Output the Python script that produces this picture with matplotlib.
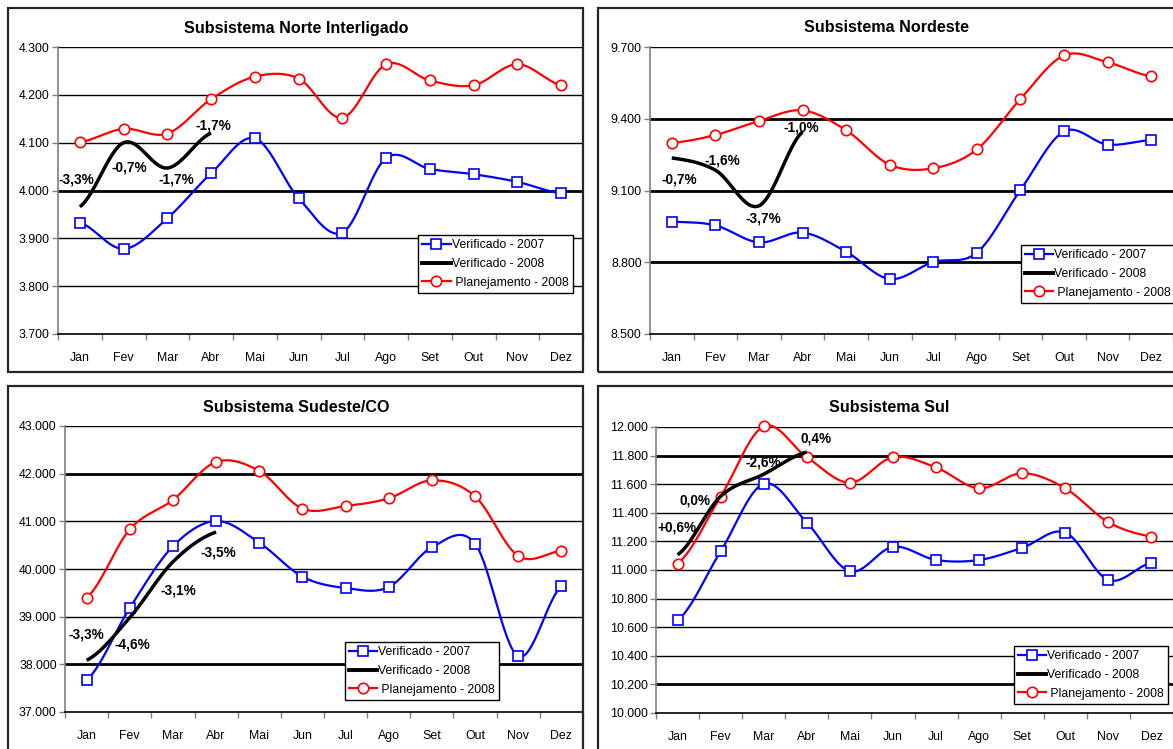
import matplotlib
matplotlib.use('Agg')
import matplotlib.pyplot as plt
import numpy as np
from matplotlib.patches import Rectangle

plt.rcParams['font.family'] = ['Liberation Sans', 'DejaVu Sans']

months = ['Jan', 'Fev', 'Mar', 'Abr', 'Mai', 'Jun', 'Jul', 'Ago', 'Set', 'Out', 'Nov', 'Dez']
legend_labels = ['Verificado - 2007', 'Verificado - 2008', ' Planejamento - 2008']

# Subsistema Norte Interligado
norte_2007 = [3933, 3878, 3942, 4036, 4109, 3984, 3912, 4068, 4045, 4034, 4018, 3994]
norte_2008 = [3966, 4100, 4047, 4120]
norte_plan = [4101, 4129, 4119, 4191, 4238, 4234, 4152, 4264, 4230, 4220, 4264, 4220]
norte_pct = ['-3,3%', '-0,7%', '-1,7%', '-1,7%']

# Subsistema Nordeste
nordeste_2007 = [8970, 8954, 8883, 8924, 8844, 8730, 8801, 8840, 9102, 9347, 9292, 9311]
nordeste_2008 = [9236, 9185, 9036, 9345]
nordeste_plan = [9299, 9332, 9391, 9435, 9352, 9208, 9193, 9272, 9483, 9665, 9636, 9577]
nordeste_pct = ['-0,7%', '-1,6%', '-3,7%', '-1,0%']

# Subsistema Sudeste/CO
sudeste_2007 = [37671, 39182, 40476, 41007, 40552, 39839, 39601, 39622, 40455, 40531, 38168, 39636]
sudeste_2008 = [38085, 38980, 40150, 40775]
sudeste_plan = [39399, 40832, 41448, 42245, 42056, 41266, 41322, 41483, 41860, 41524, 40273, 40378]
sudeste_pct = ['-3,3%', '-4,6%', '-3,1%', '-3,5%']

# Subsistema Sul
sul_2007 = [10647, 11130, 11603, 11332, 10991, 11162, 11070, 11070, 11155, 11262, 10930, 11051]
sul_2008 = [11106, 11515, 11670, 11825]
sul_plan = [11044, 11513, 12005, 11789, 11610, 11789, 11717, 11571, 11677, 11571, 11334, 11234]
sul_pct = ['+0,6%', '0,0%', '-2,6%', '0,4%']


def smooth(values, n=30):
    y = np.asarray(values, float)
    k = len(y)
    m = np.zeros(k)
    m[1:-1] = (y[2:] - y[:-2]) / 2.0
    m[0] = (y[1] - y[0]) / 2.0
    m[-1] = (y[-1] - y[-2]) / 2.0
    xs, ys = [], []
    for i in range(k - 1):
        t = np.linspace(0, 1, n, endpoint=(i == k - 2))
        h00 = 2 * t**3 - 3 * t**2 + 1
        h10 = t**3 - 2 * t**2 + t
        h01 = -2 * t**3 + 3 * t**2
        h11 = t**3 - t**2
        xs.append(i + t)
        ys.append(h00 * y[i] + h10 * m[i] + h01 * y[i + 1] + h11 * m[i + 1])
    return np.concatenate(xs), np.concatenate(ys)


def fmt(v, pos=None):
    return '{:,.0f}'.format(v).replace(',', '.')


W, H = 1173, 749
fig = plt.figure(figsize=(W / 100, H / 100), dpi=100)

panels = [
    dict(title='Subsistema Norte Interligado', v07=norte_2007, v08=norte_2008, plan=norte_plan,
         pct=norte_pct, ylim=(3700, 4300), step=100,
         ax=(58, 47, 583, 334), box=(8, 8, 583, 372), title_xy=(296, 28),
         thick=[4000],
         pct_pos=[(-0.07, 4024), (1.14, 4048), (2.21, 4024), (3.04, 4135)],
         leg=(0.686, 0.345)),
    dict(title='Subsistema Nordeste', v07=nordeste_2007, v08=nordeste_2008, plan=nordeste_plan,
         pct=nordeste_pct, ylim=(8500, 9700), step=300,
         ax=(650, 47, 1173, 334), box=(598, 8, 1180, 372), title_xy=(887, 28),
         thick=[9400, 9100, 8800],
         pct_pos=[(0.17, 9147), (1.15, 9225), (2.1, 8984), (2.98, 9363)],
         leg=(0.709, 0.31)),
    dict(title='Subsistema Sudeste/CO', v07=sudeste_2007, v08=sudeste_2008, plan=sudeste_plan,
         pct=sudeste_pct, ylim=(37000, 43000), step=1000,
         ax=(65, 426, 583, 712), box=(8, 386, 583, 760), title_xy=(296, 407),
         thick=[42000, 38000],
         pct_pos=[(-0.01, 38616), (1.07, 38420), (2.13, 39545), (3.05, 40342)],
         leg=(0.54, 0.245)),
    dict(title='Subsistema Sul', v07=sul_2007, v08=sul_2008, plan=sul_plan,
         pct=sul_pct, ylim=(10000, 12000), step=200,
         ax=(656, 427, 1173, 713), box=(598, 386, 1180, 760), title_xy=(889, 407),
         thick=[11800, 10200],
         pct_pos=[(-0.02, 11299), (0.41, 11485), (1.99, 11750), (3.21, 11921)],
         leg=(0.692, 0.235)),
]

x12 = np.arange(12)

for p in panels:
    bx0, by0, bx1, by1 = p['box']
    fig.patches.append(Rectangle((bx0 / W, 1 - by1 / H), (bx1 - bx0) / W, (by1 - by0) / H,
                                 transform=fig.transFigure, fill=False,
                                 edgecolor='#262626', linewidth=1.6, zorder=0))
    fig.text(p['title_xy'][0] / W, 1 - p['title_xy'][1] / H, p['title'],
             ha='center', va='center', fontsize=11.6, fontweight='bold')

    l, t, r, b = p['ax']
    ax = fig.add_axes([l / W, 1 - b / H, (r - l) / W, (b - t) / H])
    lo, hi = p['ylim']
    ax.set_xlim(-0.5, 11.5)
    ax.set_ylim(lo, hi)
    yt = np.arange(lo, hi + p['step'] / 2, p['step'])
    ax.set_yticks(yt)
    ax.yaxis.set_major_formatter(plt.FuncFormatter(fmt))
    ax.tick_params(axis='y', direction='out', length=4, width=1, color='#808080',
                   labelsize=8.9, pad=2)
    ax.set_xticks(x12)
    ax.set_xticklabels(months)
    ax.set_xticks(np.arange(-0.5, 12, 1), minor=True)
    ax.tick_params(axis='x', which='major', length=0, labelsize=8.9, pad=13)
    ax.tick_params(axis='x', which='minor', direction='out', length=4, width=1, color='#808080')
    for s in ['top', 'right']:
        ax.spines[s].set_visible(False)
    ax.spines['left'].set_color('#808080')
    ax.spines['left'].set_linewidth(1.2)
    ax.spines['bottom'].set_color('#000000')
    ax.spines['bottom'].set_linewidth(1.2)
    for v in yt[1:]:
        ax.axhline(v, color='black', linewidth=2.0 if v in p['thick'] else 1.0, zorder=1)

    sx, sy = smooth(p['v07'])
    ax.plot(sx, sy, color='#0000FF', linewidth=1.6, zorder=3, clip_on=False)
    ax.plot(x12, p['v07'], linestyle='none', marker='s', markersize=7.5, clip_on=False,
            markerfacecolor='white', markeredgecolor='#0000FF', markeredgewidth=1.2, zorder=4)

    sx, sy = smooth(p['plan'])
    ax.plot(sx, sy, color='#FF0000', linewidth=1.6, zorder=3, clip_on=False)
    ax.plot(x12, p['plan'], linestyle='none', marker='o', markersize=7.5, clip_on=False,
            markerfacecolor='white', markeredgecolor='#FF0000', markeredgewidth=1.2, zorder=4)

    sx, sy = smooth(p['v08'])
    ax.plot(sx, sy, color='black', linewidth=2.5, zorder=5, solid_capstyle='butt', clip_on=False)

    for txt, (px, py) in zip(p['pct'], p['pct_pos']):
        ax.text(px, py, txt, ha='center', va='center', fontsize=9.8, fontweight='bold', zorder=6)

    h07 = plt.Line2D([], [], color='#0000FF', linewidth=1.6, marker='s', markersize=7.5,
                     markerfacecolor='white', markeredgecolor='#0000FF', markeredgewidth=1.2)
    h08 = plt.Line2D([], [], color='black', linewidth=2.8)
    hpl = plt.Line2D([], [], color='#FF0000', linewidth=1.6, marker='o', markersize=7.5,
                     markerfacecolor='white', markeredgecolor='#FF0000', markeredgewidth=1.2)
    leg = ax.legend([h07, h08, hpl], legend_labels, loc='upper left',
                    bbox_to_anchor=p['leg'], fontsize=8.8, frameon=True, fancybox=False,
                    handlelength=2.3, handletextpad=0.1, borderpad=0.35, labelspacing=0.55,
                    borderaxespad=0)
    leg.get_frame().set_edgecolor('black')
    leg.get_frame().set_linewidth(1.0)
    leg.get_frame().set_alpha(1)
    leg.set_zorder(10)

fig.savefig('out.png', dpi=100)
